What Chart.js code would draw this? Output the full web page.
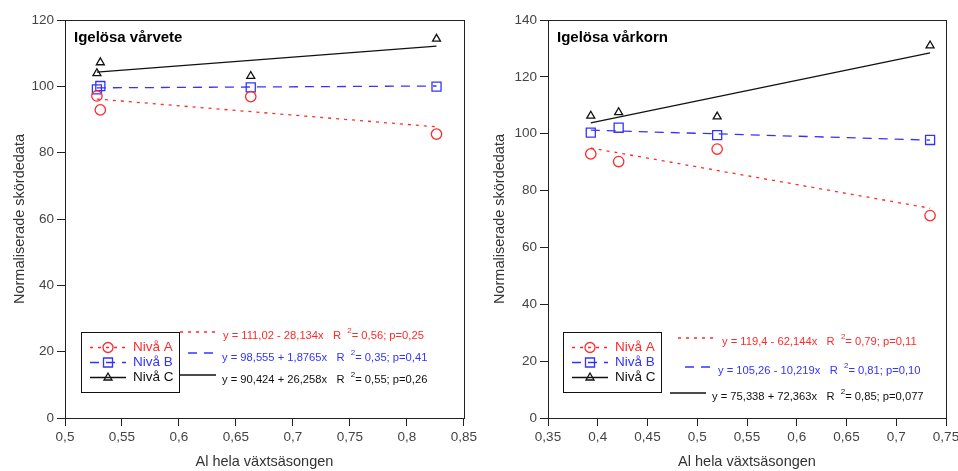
<!DOCTYPE html>
<html>
<head>
<meta charset="utf-8">
<script src="https://cdn.jsdelivr.net/npm/chart.js@4.4.1/dist/chart.umd.min.js"></script>
<style>
  body { margin: 0; background: #fff; }
  #wrap { position: relative; width: 958px; height: 471px; overflow: hidden; }
  canvas { position: absolute; top: 0; }
</style>
</head>
<body>
<div id="wrap">
  <canvas id="vete" width="480" height="471" style="left:0"></canvas>
  <canvas id="korn" width="490" height="471" style="left:480px"></canvas>
</div>
<script>
// Igelösa vårvete
const veteX = [0.528, 0.531, 0.663, 0.826];
const veteA = [97.1, 92.9, 96.9, 85.6];
const veteB = [99.1, 100.1, 99.7, 99.9];
const veteC = [103.9, 107.2, 103.1, 114.3];
const veteIntercept = [111.02, 98.555, 90.424];
const veteSlope = [-28.134, 1.8765, 26.258];
const veteEq = ['y = 111,02 - 28,134x', 'y = 98,555 + 1,8765x', 'y = 90,424 + 26,258x'];
const veteStat = ['= 0,56; p=0,25', '= 0,35; p=0,41', '= 0,55; p=0,26'];

// Igelösa vårkorn
const kornX = [0.393, 0.421, 0.520, 0.734];
const kornA = [92.9, 90.2, 94.6, 71.2];
const kornB = [100.4, 102.1, 99.5, 97.8];
const kornC = [106.3, 107.5, 106.0, 131.0];
const kornIntercept = [119.4, 105.26, 75.338];
const kornSlope = [-62.144, -10.219, 72.363];
const kornEq = ['y = 119,4 - 62,144x', 'y = 105,26 - 10,219x', 'y = 75,338 + 72,363x'];
const kornStat = ['= 0,79; p=0,11', '= 0,81; p=0,10', '= 0,85; p=0,077'];

const levels = ['Nivå A', 'Nivå B', 'Nivå C'];
const colors = ['#ff2a2a', '#3333ff', '#111111'];
const styles = ['circle', 'rect', 'triangle'];
const dashes = [[3, 5], [9, 7], []];
const FONT = '"Liberation Sans", Arial, sans-serif';

Chart.defaults.font.family = FONT;

function marker(ctx, style, x, y, color) {
  ctx.save();
  ctx.strokeStyle = color;
  ctx.lineWidth = 1.3;
  ctx.setLineDash([]);
  ctx.beginPath();
  if (style === 'circle') ctx.arc(x, y, 5, 0, Math.PI * 2);
  else if (style === 'rect') ctx.rect(x - 4.5, y - 4.5, 9, 9);
  else { ctx.moveTo(x, y - 4.5); ctx.lineTo(x + 4, y + 2.5); ctx.lineTo(x - 4, y + 2.5); ctx.closePath(); }
  ctx.stroke();
  ctx.restore();
}

function sample(ctx, x1, x2, y, i) {
  ctx.save();
  ctx.strokeStyle = colors[i];
  ctx.lineWidth = 1.3;
  ctx.setLineDash(dashes[i]);
  ctx.beginPath();
  ctx.moveTo(x1, y); ctx.lineTo(x2, y);
  ctx.stroke();
  ctx.restore();
}

const decor = {
  id: 'decor',
  afterDraw(chart, args, o) {
    const { ctx, chartArea: a } = chart;
    ctx.save();
    // frame
    ctx.strokeStyle = '#222';
    ctx.lineWidth = 1;
    ctx.strokeRect(Math.round(a.left) + 0.5, Math.round(a.top) + 0.5, Math.round(a.width), Math.round(a.height));
    // title
    ctx.fillStyle = '#000';
    ctx.font = 'bold 15px ' + FONT;
    ctx.textBaseline = 'middle';
    ctx.fillText(o.title, a.left + 9, a.top + 18);
    // legend box
    const bx = a.left + o.box[0], by = a.top + o.box[1];
    ctx.fillStyle = '#fff';
    ctx.fillRect(bx, by, 98, 60);
    ctx.strokeStyle = '#111';
    ctx.strokeRect(bx + 0.5, by + 0.5, 98, 60);
    ctx.font = '13.5px ' + FONT;
    levels.forEach((t, i) => {
      const yy = by + 15.5 + i * 15;
      sample(ctx, bx + 9, bx + 45, yy, i);
      marker(ctx, styles[i], bx + 27, yy, colors[i]);
      ctx.fillStyle = colors[i];
      ctx.fillText(t, bx + 52, yy);
    });
    // equations
    o.eq.forEach((t, i) => {
      const p = o.eqPos[i];
      sample(ctx, a.left + p[0], a.left + p[1], a.top + p[2], i);
      let x = a.left + p[3];
      const y = a.top + p[4];
      ctx.fillStyle = colors[i];
      ctx.font = '11.2px ' + FONT;
      const s1 = t + '   R  ';
      ctx.fillText(s1, x, y);
      x += ctx.measureText(s1).width;
      ctx.font = '8px ' + FONT;
      ctx.fillText('2', x, y - 5);
      x += ctx.measureText('2').width;
      ctx.font = '11.2px ' + FONT;
      ctx.fillText(o.stat[i], x, y);
    });
    ctx.restore();
  }
};

function fmt(v) {
  return String(Number(v.toFixed(2))).replace('.', ',');
}

function makeChart(id, xs, ys, ints, slopes, eq, stat, xr, ymax, yw, padRight, opts) {
  const lo = Math.min(...xs), hi = Math.max(...xs);
  const pts = ys.map((s, i) => ({
    data: xs.map((x, j) => ({ x: x, y: s[j] })),
    showLine: false,
    pointStyle: styles[i],
    pointRadius: i === 1 ? 6.4 : (i === 2 ? 4.6 : 5.2),
    borderColor: colors[i],
    backgroundColor: 'rgba(0,0,0,0)',
    borderWidth: 1.3
  }));
  const fits = ints.map((b, i) => ({
    data: [{ x: lo, y: b + slopes[i] * lo }, { x: hi, y: b + slopes[i] * hi }],
    showLine: true,
    pointRadius: 0,
    borderColor: colors[i],
    borderDash: dashes[i],
    borderWidth: 1.3
  }));
  const axisGrid = { drawOnChartArea: false, tickLength: 8, color: '#222', lineWidth: 1 };
  return new Chart(document.getElementById(id), {
    type: 'scatter',
    data: { datasets: pts.concat(fits) },
    options: {
      responsive: false,
      animation: false,
      layout: { padding: { top: 20, right: padRight, left: 0, bottom: 0 } },
      plugins: { legend: { display: false }, tooltip: { enabled: false }, decor: Object.assign({ eq: eq, stat: stat }, opts) },
      scales: {
        x: {
          type: 'linear', min: xr[0], max: xr[1],
          ticks: { stepSize: 0.05, callback: fmt, color: '#444', font: { size: 13.5 }, maxRotation: 0, padding: 3 },
          grid: axisGrid,
          border: { color: '#222' },
          title: { display: true, text: 'Al hela växtsäsongen', color: '#333', font: { size: 14.5 }, padding: 0 },
          afterFit: s => { s.height = 53; }
        },
        y: {
          min: 0, max: ymax,
          ticks: { stepSize: 20, color: '#444', font: { size: 13.5 }, padding: 3 },
          grid: axisGrid,
          border: { color: '#222' },
          title: { display: true, text: 'Normaliserade skördedata', color: '#333', font: { size: 14.5 }, padding: { top: 11, bottom: 0 } },
          afterFit: s => { s.width = yw; }
        }
      }
    },
    plugins: [decor]
  });
}

makeChart('vete', veteX, [veteA, veteB, veteC], veteIntercept, veteSlope, veteEq, veteStat,
  [0.5, 0.85], 120, 65, 15, {
    title: 'Igelösa vårvete',
    box: [16, 312],
    eqPos: [[115, 153, 312, 158, 316], [123, 150, 333, 157, 338], [115, 151, 355, 157, 360]]
  });

makeChart('korn', kornX, [kornA, kornB, kornC], kornIntercept, kornSlope, kornEq, kornStat,
  [0.35, 0.75], 140, 68, 24, {
    title: 'Igelösa vårkorn',
    box: [15, 312],
    eqPos: [[130, 169, 318, 174, 322], [137, 163, 347, 170, 351], [122, 158, 373, 164, 377]]
  });
</script>
</body>
</html>
